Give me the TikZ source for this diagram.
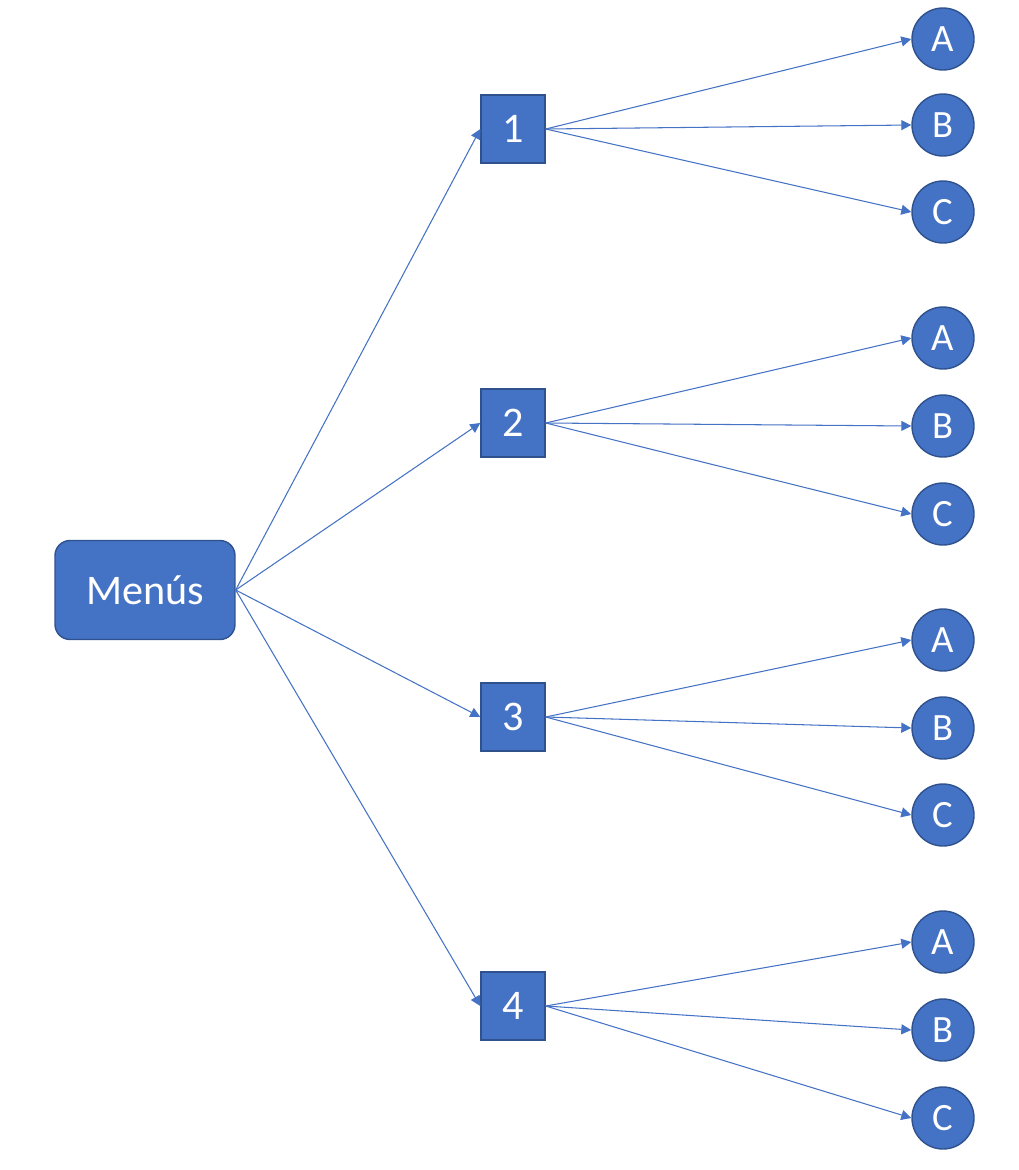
\documentclass[tikz,border=0pt]{standalone}
\usepackage{fontspec}
\setmainfont{Carlito}
\usetikzlibrary{arrows.meta}
\definecolor{ofill}{HTML}{4472C4}
\definecolor{oline}{HTML}{2F528F}
\begin{document}
\begin{tikzpicture}[
    x=0.02cm, y=-0.02cm,
    root/.style={draw=oline, fill=ofill, rounded corners=0.3cm, line width=0.8pt, minimum width=3.6cm, minimum height=1.98cm, text=white, font=\fontsize{24}{28}\selectfont},
    menubox/.style={draw=oline, fill=ofill, line width=0.8pt, minimum width=1.28cm, minimum height=1.36cm, text=white, font=\fontsize{24}{28}\selectfont},
    leaf/.style={circle, draw=oline, fill=ofill, line width=0.8pt, minimum size=1.24cm, inner sep=0pt, text=white, font=\fontsize{22}{26}\selectfont},
    link/.style={draw=ofill, line width=0.6pt, -{Triangle[length=0.2cm, width=0.2cm]}},
]
\useasboundingbox (0,0) rectangle (1018,1170);
% root
\node[root] (menu) at (145,590) {Menús};

% options
\foreach \i/\y in {1/129, 2/423, 3/717, 4/1006} {
  \node[menubox] (b\i) at (513,\y) {\i};
  \draw[link] (menu.east) -- (b\i.west);
}

% sub-options
\foreach \i/\ya/\yb/\yc in {1/39/125/212, 2/338/426/514, 3/640/728/815, 4/942/1030/1118} {
  \foreach \l/\y in {A/\ya, B/\yb, C/\yc} {
    \node[leaf] (c\i\l) at (943,\y) {\l};
    \draw[link] (b\i.east) -- (c\i\l.west);
  }
}
\end{tikzpicture}
\end{document}
